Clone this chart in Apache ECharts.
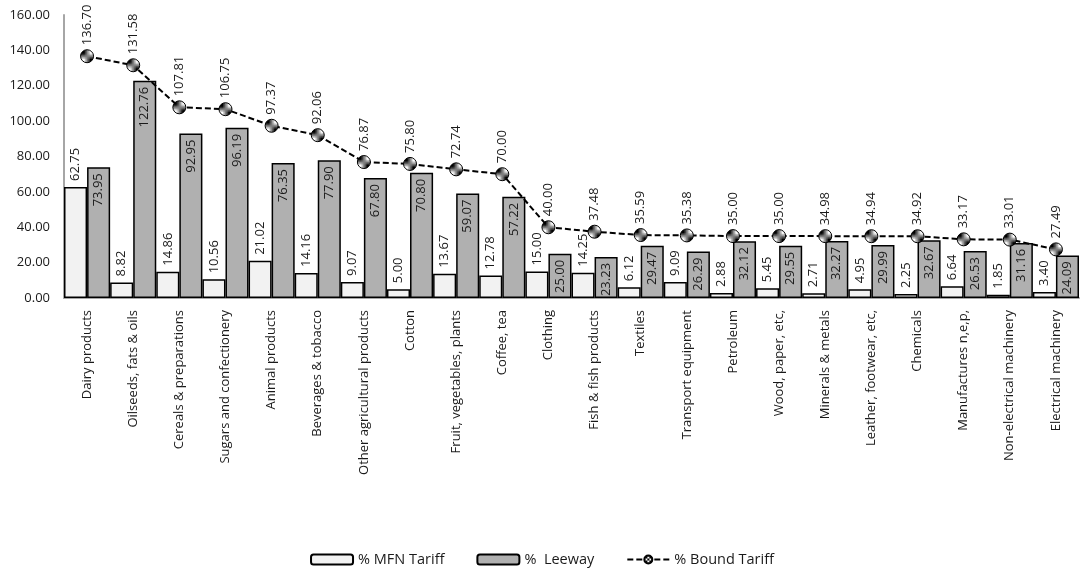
<!DOCTYPE html>
<html>
<head>
<meta charset="utf-8">
<script src="https://cdn.jsdelivr.net/npm/echarts@6/dist/echarts.min.js"></script>
<style>
  html, body { margin: 0; padding: 0; background: #fff; }
  #chart { width: 1084px; height: 581px; }
</style>
</head>
<body>
<div id="chart"></div>
<script>
// Product groups, left to right
const categories = [
  'Dairy products', 'Oilseeds, fats & oils', 'Cereals & preparations',
  'Sugars and confectionery', 'Animal products', 'Beverages & tobacco',
  'Other agricultural products', 'Cotton', 'Fruit, vegetables, plants',
  'Coffee, tea', 'Clothing', 'Fish & fish products', 'Textiles',
  'Transport equipment', 'Petroleum', 'Wood, paper, etc,',
  'Minerals & metals', 'Leather, footwear, etc,', 'Chemicals',
  'Manufactures n,e,p,', 'Non-electrical machinery', 'Electrical machinery'
];

// Applied MFN tariff (%)
const mfnTariff = [62.75, 8.82, 14.86, 10.56, 21.02, 14.16, 9.07, 5.00, 13.67, 12.78,
  15.00, 14.25, 6.12, 9.09, 2.88, 5.45, 2.71, 4.95, 2.25, 6.64, 1.85, 3.40];

// Leeway between bound and applied rates (%)
const leeway = [73.95, 122.76, 92.95, 96.19, 76.35, 77.90, 67.80, 70.80, 59.07, 57.22,
  25.00, 23.23, 29.47, 26.29, 32.12, 29.55, 32.27, 29.99, 32.67, 26.53, 31.16, 24.09];

// Bound tariff (%)
const boundTariff = [136.70, 131.58, 107.81, 106.75, 97.37, 92.06, 76.87, 75.80, 72.74, 70.00,
  40.00, 37.48, 35.59, 35.38, 35.00, 35.00, 34.98, 34.94, 34.92, 33.17, 33.01, 27.49];

const seriesNames = ['% MFN Tariff', '%  Leeway', '% Bound Tariff'];

// Small checkerboard tile used as the marker fill
function checkerTile() {
  const c = document.createElement('canvas');
  c.width = 4; c.height = 4;
  const g = c.getContext('2d');
  g.fillStyle = '#ffffff'; g.fillRect(0, 0, 4, 4);
  g.fillStyle = '#000000';
  g.fillRect(0, 0, 2, 2); g.fillRect(2, 2, 2, 2);
  return c;
}

const FONT = '"Open Sans", sans-serif';
const TXT = '#1a1a1a';
const fmt = v => Number(v).toFixed(2);

const chart = echarts.init(document.getElementById('chart'), null, { renderer: 'canvas' });

chart.setOption({
  animation: false,
  textStyle: { fontFamily: FONT, color: TXT },
  grid: { left: 64, right: 5, top: 15, bottom: 283, containLabel: false },
  legend: {
    bottom: 9,
    left: 'center',
    itemWidth: 42,
    itemHeight: 10,
    itemGap: 32,
    textStyle: { fontFamily: FONT, fontSize: 14.5, color: TXT },
    data: seriesNames
  },
  xAxis: {
    type: 'category',
    data: categories,
    axisLine: { lineStyle: { color: '#a6a6a6', width: 2 } },
    axisTick: { show: false },
    axisLabel: {
      rotate: 90,
      interval: 0,
      margin: 12,
      fontSize: 13,
      color: TXT,
      fontFamily: FONT
    }
  },
  yAxis: {
    type: 'value',
    min: 0,
    max: 160,
    interval: 20,
    splitLine: { show: false },
    axisLine: { show: true, lineStyle: { color: '#a6a6a6', width: 2 } },
    axisTick: { show: false },
    axisLabel: {
      formatter: fmt,
      fontSize: 13,
      color: TXT,
      margin: 14,
      fontFamily: FONT
    }
  },
  series: [
    {
      name: seriesNames[0],
      type: 'bar',
      data: mfnTariff,
      barGap: '0%',
      barCategoryGap: '0%',
      itemStyle: { color: '#f2f2f2', borderColor: '#000', borderWidth: 1.5 },
      label: {
        show: true,
        position: 'top',
        rotate: 90,
        align: 'left',
        verticalAlign: 'middle',
        distance: 6,
        fontSize: 13,
        color: TXT,
        fontFamily: FONT,
        formatter: p => fmt(p.value)
      },
      z: 2
    },
    {
      name: seriesNames[1],
      type: 'bar',
      data: leeway,
      barGap: '0%',
      barCategoryGap: '0%',
      itemStyle: { color: '#b0b0b0', borderColor: '#000', borderWidth: 1.5 },
      label: {
        show: true,
        position: 'insideTop',
        rotate: 90,
        align: 'right',
        verticalAlign: 'middle',
        distance: 6,
        fontSize: 13,
        color: TXT,
        fontFamily: FONT,
        formatter: p => fmt(p.value)
      },
      z: 2
    },
    {
      name: seriesNames[2],
      type: 'line',
      data: boundTariff,
      symbol: 'circle',
      symbolSize: 13,
      lineStyle: { color: '#000', width: 2, type: [6, 3] },
      itemStyle: {
        color: { image: checkerTile(), repeat: 'repeat' },
        borderColor: '#000',
        borderWidth: 1
      },
      label: {
        show: true,
        position: 'top',
        rotate: 90,
        align: 'left',
        verticalAlign: 'middle',
        distance: 4,
        fontSize: 13,
        color: TXT,
        fontFamily: FONT,
        formatter: p => fmt(p.value)
      },
      z: 5
    }
  ]
});
</script>
</body>
</html>
